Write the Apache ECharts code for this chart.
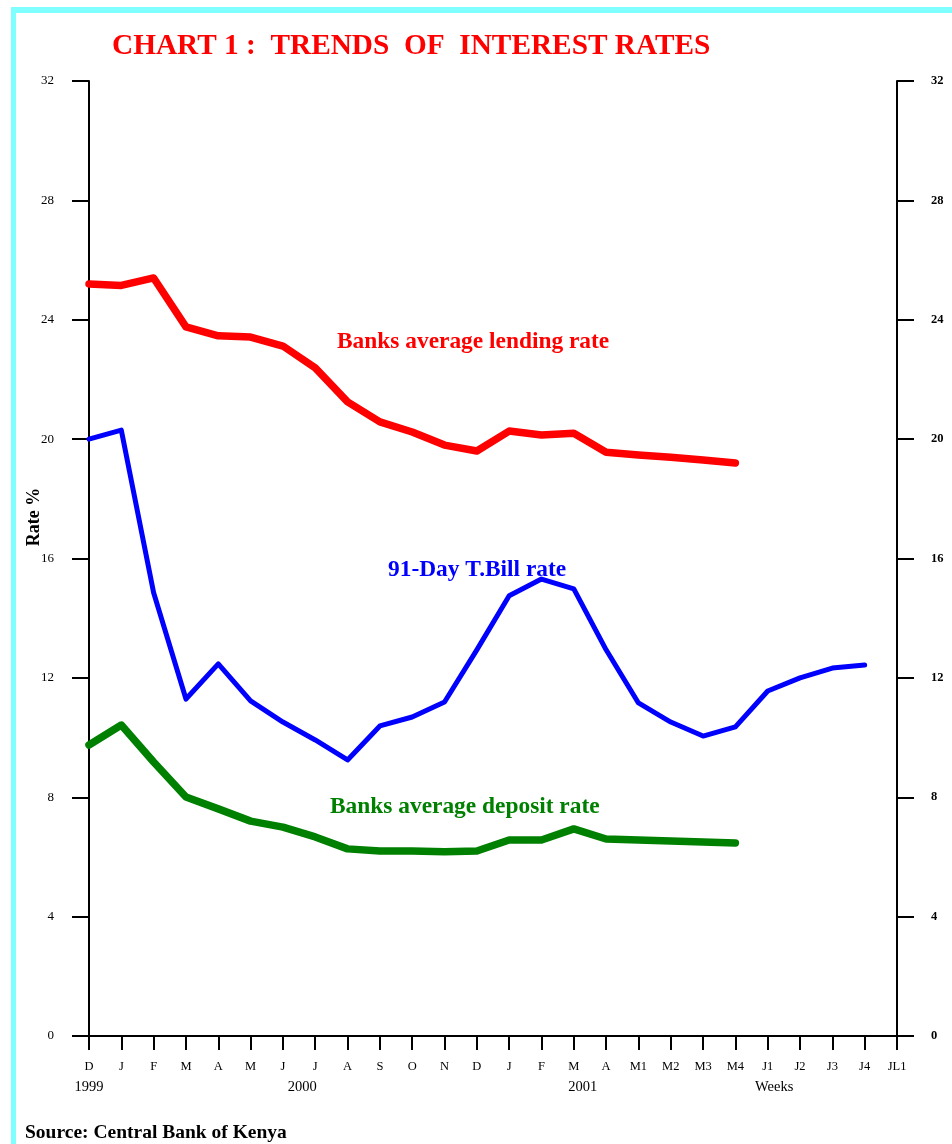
<!DOCTYPE html>
<html>
<head>
<meta charset="utf-8">
<script src="https://cdn.jsdelivr.net/npm/echarts@6/dist/echarts.min.js"></script>
<style>
html,body{margin:0;padding:0;background:#fff;}
#chart{width:952px;height:1144px;}
</style>
</head>
<body>
<div id="chart"></div>
<script>
var categories = ['D','J','F','M','A','M','J','J','A','S','O','N','D','J','F','M','A','M1','M2','M3','M4','J1','J2','J3','J4','JL1'];
var lendingRate = [25.2,25.15,25.4,23.76,23.46,23.42,23.12,22.39,21.25,20.58,20.24,19.8,19.6,20.27,20.14,20.2,19.56,19.47,19.39,19.3,19.2];
var tbillRate = [20.0,20.3,14.85,11.29,12.47,11.23,10.52,9.92,9.25,10.39,10.69,11.19,12.94,14.75,15.31,14.98,12.94,11.16,10.52,10.05,10.36,11.56,12.0,12.33,12.43];
var depositRate = [9.75,10.42,9.18,8.01,7.61,7.2,7.0,6.67,6.27,6.2,6.2,6.17,6.2,6.57,6.57,6.94,6.6,6.57,6.53,6.5,6.47];
var yearLabels = ['1999','2000','2001','Weeks'];
var yearIndex = [0, 6.6, 15.28, 21.2];

var SERIF = '"Liberation Serif", "DejaVu Serif", serif';
var chart = echarts.init(document.getElementById('chart'));

var option = {
  backgroundColor: '#fff',
  animation: false,
  grid: {left: 89, right: 55, top: 81, bottom: 108, containLabel: false},
  xAxis: [{
    type: 'category',
    data: categories,
    boundaryGap: false,
    position: 'bottom',
    axisLine: {lineStyle: {color: '#000', width: 2}},
    axisTick: {show: true, length: 14, interval: 0, lineStyle: {color: '#000', width: 2}},
    axisLabel: {interval: 0, margin: 24, color: '#000', fontFamily: SERIF, fontSize: 12.5},
    splitLine: {show: false}
  }, {
    type: 'category',
    data: categories,
    boundaryGap: false,
    position: 'top',
    axisLine: {lineStyle: {color: '#000', width: 2}},
    axisTick: {show: false},
    axisLabel: {show: false},
    splitLine: {show: false}
  }],
  yAxis: [{
    type: 'value',
    min: 0, max: 32, interval: 4,
    position: 'left',
    axisLine: {show: true, lineStyle: {color: '#000', width: 2}},
    axisTick: {show: true, length: 17, lineStyle: {color: '#000', width: 2}},
    axisLabel: {margin: 35, color: '#000', fontFamily: SERIF, fontSize: 13},
    splitLine: {show: false}
  }, {
    type: 'value',
    min: 0, max: 32, interval: 4,
    position: 'right',
    axisLine: {show: true, lineStyle: {color: '#000', width: 2}},
    axisTick: {show: true, length: 17, lineStyle: {color: '#000', width: 2}},
    axisLabel: {margin: 34, color: '#000', fontFamily: SERIF, fontSize: 12.5, fontWeight: 'bold'},
    splitLine: {show: false}
  }],
  series: [{
    name: 'Banks average lending rate',
    type: 'line',
    data: lendingRate,
    symbol: 'none',
    lineStyle: {color: '#ff0000', width: 7.5, cap: 'round', join: 'round'},
    z: 3
  }, {
    name: '91-Day T.Bill rate',
    type: 'line',
    data: tbillRate,
    symbol: 'none',
    lineStyle: {color: '#0000ff', width: 5, cap: 'round', join: 'round'},
    z: 3
  }, {
    name: 'Banks average deposit rate',
    type: 'line',
    data: depositRate,
    symbol: 'none',
    lineStyle: {color: '#008000', width: 7.5, cap: 'round', join: 'round'},
    z: 3
  }],
  graphic: [
    {type: 'rect', shape: {x: 11, y: 7, width: 941, height: 6}, style: {fill: '#80ffff'}, z: 10},
    {type: 'rect', shape: {x: 11, y: 7, width: 5, height: 1137}, style: {fill: '#80ffff'}, z: 10},
    {type: 'text', x: 112, y: 46, style: {text: 'CHART 1 :  TRENDS  OF  INTEREST RATES', fill: '#ff0000', font: 'bold 29.3px ' + SERIF, textVerticalAlign: 'middle'}},
    {type: 'text', x: 337, y: 342, style: {text: 'Banks average lending rate', fill: '#ff0000', font: 'bold 23.4px ' + SERIF, textVerticalAlign: 'middle'}},
    {type: 'text', x: 388, y: 570, style: {text: '91-Day T.Bill rate', fill: '#0000ff', font: 'bold 23.4px ' + SERIF, textVerticalAlign: 'middle'}},
    {type: 'text', x: 330, y: 807, style: {text: 'Banks average deposit rate', fill: '#008000', font: 'bold 23.4px ' + SERIF, textVerticalAlign: 'middle'}},
    {type: 'text', x: 34, y: 517, rotation: Math.PI / 2, style: {text: 'Rate %', fill: '#000', font: 'bold 18px ' + SERIF, textAlign: 'center', textVerticalAlign: 'middle'}},
    {type: 'text', x: 25, y: 1133, style: {text: 'Source: Central Bank of Kenya', fill: '#000', font: 'bold 19.5px ' + SERIF, textVerticalAlign: 'middle'}}
  ]
};
chart.setOption(option);

var extra = [];
var p0 = chart.convertToPixel({xAxisIndex: 0}, 0);
var p1 = chart.convertToPixel({xAxisIndex: 0}, 1);
for (var i = 0; i < yearLabels.length; i++) {
  var x = p0 + (p1 - p0) * yearIndex[i];
  extra.push({type: 'text', x: x, y: 1087, style: {text: yearLabels[i], fill: '#000', font: '14.5px ' + SERIF, textAlign: 'center', textVerticalAlign: 'middle'}});
}
chart.setOption({graphic: option.graphic.concat(extra)});
</script>
</body>
</html>
